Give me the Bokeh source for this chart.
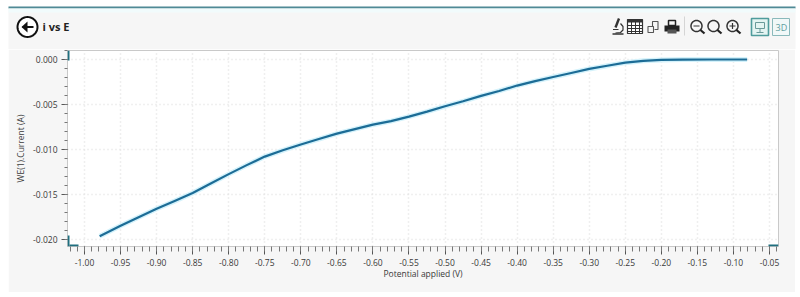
import numpy as np
from bokeh.embed import file_html
from bokeh.resources import INLINE
from bokeh.core.properties import value
from bokeh.layouts import column, row
from bokeh.plotting import figure
from bokeh.models import (Range1d, SingleIntervalTicker, PrintfTickFormatter,
                          PolyAnnotation, Spacer)

# Data
potential = [-0.979, -0.95, -0.925, -0.90, -0.875, -0.85, -0.825, -0.80, -0.775, -0.75, -0.725, -0.70,
             -0.675, -0.65, -0.625, -0.60, -0.575, -0.55, -0.525, -0.50, -0.475, -0.45, -0.425, -0.40,
             -0.375, -0.35, -0.325, -0.30, -0.275, -0.25, -0.225, -0.20, -0.17, -0.13, -0.081]
current = [-0.01965, -0.0185, -0.01755, -0.0166, -0.01575, -0.01485, -0.0138, -0.01275, -0.01175, -0.0108,
           -0.0101, -0.00945, -0.00885, -0.00825, -0.00775, -0.00725, -0.00685, -0.00635, -0.0058, -0.0052,
           -0.00465, -0.00405, -0.0035, -0.0029, -0.0024, -0.00195, -0.0015, -0.00105, -0.0007, -0.00035,
           -0.00015, -0.00005, -0.00001, 0.0, 0.0]
title_text = "i vs E"
x_title = "Potential applied (V)"
y_title = "WE(1).Current (A)"

FONT = "Open Sans"
TEAL = "#1f6f7f"
PANEL = "#f6f6f6"

# ---------- header with the panel's rule, title and tool icons (page pixels) ----------
HEAD_H = 49
h = figure(width=800, height=HEAD_H, output_backend="svg", toolbar_location=None,
           x_range=Range1d(0, 800), y_range=Range1d(HEAD_H, 0),
           min_border=0, x_axis_type=None, y_axis_type=None,
           background_fill_color="white", border_fill_color="white")
h.outline_line_color = None
h.xgrid.visible = False
h.ygrid.visible = False


def poly(xs, ys, fill=None, line=None, width=1.0):
    h.patch(xs, ys, fill_color=fill, fill_alpha=1 if fill else 0,
            line_color=line, line_alpha=1 if line else 0, line_width=width)


def rect(x0, y0, x1, y1, fill=None, line=None, width=1.0):
    poly([x0, x1, x1, x0], [y0, y0, y1, y1], fill, line, width)


def circle(cx, cy, r, line, width, fill=None):
    a = np.linspace(0, 2 * np.pi, 40, endpoint=False)
    poly(list(cx + r * np.cos(a)), list(cy + r * np.sin(a)), fill, line, width)


def seg(x0, y0, x1, y1, color, width):
    h.line([x0, x1], [y0, y1], line_color=color, line_width=width)


def text(x, y, s, size, color, style="normal"):
    h.text([x], [y], text=[s], text_font=value(FONT), text_font_size=size, text_color=color,
           text_font_style=style, text_baseline="middle", text_align="left")


rect(8, 6, 795, HEAD_H + 1, fill=PANEL)
rect(8, 6, 795, 8, fill="#4f8a96")
rect(8, 8, 795, 12, fill="#f1fbfc")

# back button
circle(27, 26.5, 10, "#111111", 2, fill="#ffffff")
rect(22, 25.5, 33, 27.5, fill="#111111")
poly([21, 27, 27], [26.5, 21, 32], fill="#111111")
text(42, 26, title_text, "11px", "#222222", "bold")

# microscope
seg(612, 33.5, 623, 33.5, "#333333", 1.6)
seg(618.5, 18, 615, 27, "#333333", 2.4)
h.line([620, 622.5, 622.5, 620, 615], [23, 26, 29.5, 32, 32.5], line_color="#333333", line_width=1.2)
seg(612.5, 29, 618, 29, "#333333", 1.2)

# table
rect(627, 19, 642, 33, fill="#ffffff", line="#333333", width=1.2)
rect(627, 19, 642, 22, fill="#333333")
for gx in (631, 635, 639):
    seg(gx, 19, gx, 33, "#333333", 1)
for gy in (25, 28, 31):
    seg(627, gy, 642, gy, "#333333", 1)

# copy
h.line([652, 652, 657.5, 657.5, 654], [26, 21, 21, 29, 29], line_color="#555555", line_width=1.1)
rect(647.5, 26, 653, 32, fill=PANEL, line="#555555", width=1.1)

# printer
rect(668, 20, 675, 25, line="#222222", width=1.5)
rect(664, 25, 679, 31, fill="#222222")
rect(667, 29, 676, 33, fill="#555555")

# separator
seg(684, 16, 684, 35, "#d5d5d5", 1)

# zoom icons
for cx in (696, 713, 732):
    circle(cx, 25.5, 5.5, "#333333", 1.5)
    seg(cx + 4, 29.5, cx + 8, 33, "#222222", 2.2)
seg(693, 25.5, 699, 25.5, "#333333", 1.2)
seg(729, 25.5, 735, 25.5, "#333333", 1.2)
seg(732, 22.5, 732, 28.5, "#333333", 1.2)

# view buttons
rect(751, 18, 768, 35, fill="#e4f4f2", line="#4f9c9c", width=1.6)
rect(755, 22, 764, 28, line="#6a9a9a", width=1)
seg(759.5, 28, 759.5, 32, "#6a9a9a", 1)
seg(756, 32, 763, 32, "#6a9a9a", 1)
rect(772, 18, 789, 35, fill="#f1f8f8", line="#8ab9bb", width=1)
text(775, 27, "3D", "9px", "#5f9ea0")

# ---------- main chart ----------
p = figure(width=787, height=243, output_backend="svg", toolbar_location=None,
           x_range=Range1d(-1.0236, -0.0375), y_range=Range1d(-0.0208, 0.001),
           min_border_left=59, min_border_right=17, min_border_top=1, min_border_bottom=46,
           background_fill_color="white", border_fill_color=PANEL)
p.outline_line_color = "#c9c9c9"
p.outline_line_width = 1

p.xaxis.ticker = SingleIntervalTicker(interval=0.05, num_minor_ticks=5)
p.yaxis.ticker = SingleIntervalTicker(interval=0.005, num_minor_ticks=5)
p.xaxis.formatter = PrintfTickFormatter(format="%.2f")
p.yaxis.formatter = PrintfTickFormatter(format="%.3f")
for ax in (p.xaxis[0], p.yaxis[0]):
    ax.axis_line_color = "#c9c9c9"
    ax.major_tick_line_color = "#555555"
    ax.minor_tick_line_color = "#777777"
    ax.major_tick_in = 0
    ax.minor_tick_in = 0
    ax.major_label_text_font = FONT
    ax.major_label_text_font_size = "8.5px"
    ax.major_label_text_color = "#3a3a3a"
    ax.axis_label_text_font = FONT
    ax.axis_label_text_font_size = "8.5px"
    ax.axis_label_text_font_style = "normal"
    ax.axis_label_text_color = "#3a3a3a"
p.xaxis.major_tick_out = 8
p.xaxis.minor_tick_out = 5
p.yaxis.major_tick_out = 6
p.yaxis.minor_tick_out = 3
p.xaxis.major_label_standoff = 4
p.yaxis.major_label_standoff = 4
p.xaxis.axis_label = x_title
p.yaxis.axis_label = y_title
p.xaxis.axis_label_standoff = -1
p.yaxis.axis_label_standoff = 4

for g in (p.xgrid[0], p.ygrid[0]):
    g.grid_line_color = "#e0e0e0"
    g.grid_line_dash = "1 3"
    g.grid_line_width = 1.5

p.line(potential, current, line_color="#d4f2fb", line_width=5)
p.line(potential, current, line_color="#1c6c96", line_width=2.2, line_join="round")


def hbox(x0, y0, x1, y1):
    # range handles, in page pixels
    ox, oy = 8, HEAD_H
    p.add_layout(PolyAnnotation(xs=[x0 - ox, x1 - ox, x1 - ox, x0 - ox],
                                ys=[y0 - oy, y0 - oy, y1 - oy, y1 - oy],
                                xs_units="canvas", ys_units="canvas",
                                fill_color=TEAL, fill_alpha=1, line_alpha=0, editable=False))


hbox(67, 50, 69, 60)
hbox(67, 235, 69, 246)
hbox(69, 244, 78, 246)
hbox(768, 244, 778, 246)

page = column(h, row(Spacer(width=8, height=243), p, Spacer(width=5, height=243), spacing=0),
              Spacer(width=800, height=5), spacing=0)
open("out.html", "w").write(file_html(page, INLINE))
